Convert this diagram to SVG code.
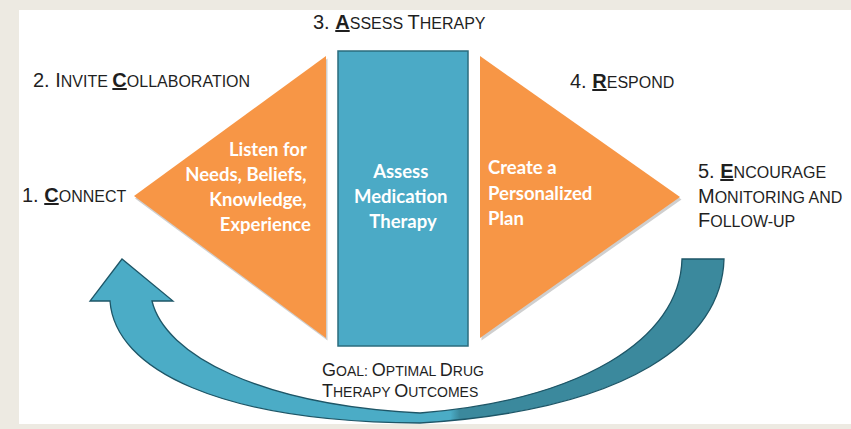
<svg xmlns="http://www.w3.org/2000/svg" width="851" height="429" viewBox="0 0 851 429">
  <defs>
    <style>
      .lbl { font-family: "Liberation Sans", Arial, sans-serif; fill: #1f1f1f; }
      .big { font-size: 20px; }
      .sm { font-size: 16px; }
      .gbig { font-size: 18px; }
      .gsm { font-size: 14px; }
      .key { font-weight: bold; text-decoration: underline; }
      .inner { font-family: Lato, "Open Sans", sans-serif; font-weight: bold; font-size: 18.5px; fill: #ffffff; }
      .tri { fill: #F79646; }
      .shadow { fill: #cfcfcf; }
      .band { stroke: #1E5667; stroke-width: 1.3; stroke-linejoin: miter; }
    </style>
    <linearGradient id="bandFill" gradientUnits="userSpaceOnUse" x1="410" y1="0" x2="500" y2="0">
      <stop offset="0" stop-color="#4BACC6"/>
      <stop offset="0.45" stop-color="#4BACC6"/>
      <stop offset="0.55" stop-color="#3B899D"/>
      <stop offset="1" stop-color="#3B899D"/>
    </linearGradient>
  </defs>

  <!-- page background and white panel -->
  <rect x="0" y="0" width="851" height="429" fill="#EDEAE2"/>
  <rect x="19" y="10" width="832" height="414" fill="#ffffff"/>

  <!-- return loop arrow -->
  <g id="connectors">
    <path class="band" fill="url(#bandFill)" d="M122,259 L90,301 L110,301 C115,370 220,422 420,423 C630,410 722,340 724,259 L682,259 C680,340 580,400 420,413 C260,405 165,355 152,301 L173,301 Z"/>
  </g>

  <g id="listen">
    <polygon class="shadow" points="135,198.5 327.5,58.5 327.5,340.5"/>
    <polygon class="tri" points="134,196 326,56 326,338"/>
    <text class="inner" text-anchor="end">
      <tspan x="311" y="156">Listen for</tspan>
      <tspan x="311" y="181">Needs, Beliefs,</tspan>
      <tspan x="311" y="206">Knowledge,</tspan>
      <tspan x="311" y="231">Experience</tspan>
    </text>
  </g>

  <g id="assess">
    <rect x="338" y="51" width="130" height="295" fill="#4BAAC6" stroke="#2B6C7E" stroke-width="1.5"/>
    <text class="inner" text-anchor="middle">
      <tspan x="403" y="178">Assess</tspan>
      <tspan x="403" y="203">Medication</tspan>
      <tspan x="403" y="228">Therapy</tspan>
    </text>
  </g>

  <g id="plan">
    <polygon class="shadow" points="481.5,58.5 681.5,199.5 481.5,340.5"/>
    <polygon class="tri" points="480,56 680,197 480,338"/>
    <text class="inner">
      <tspan x="488" y="174">Create a</tspan>
      <tspan x="488" y="200">Personalized</tspan>
      <tspan x="488" y="225">Plan</tspan>
    </text>
  </g>

  <g id="step-connect">
    <text class="lbl" x="22" y="202"><tspan class="big">1. </tspan><tspan class="big key">C</tspan><tspan class="sm">ONNECT</tspan></text>
  </g>

  <g id="step-collaboration">
    <text class="lbl" x="33" y="87"><tspan class="big">2. I</tspan><tspan class="sm">NVITE </tspan><tspan class="big key">C</tspan><tspan class="sm">OLLABORATION</tspan></text>
  </g>

  <g id="step-assess">
    <text class="lbl" x="313" y="29"><tspan class="big">3. </tspan><tspan class="big key">A</tspan><tspan class="sm">SSESS </tspan><tspan class="big">T</tspan><tspan class="sm">HERAPY</tspan></text>
  </g>

  <g id="step-respond">
    <text class="lbl" x="570" y="88"><tspan class="big">4. </tspan><tspan class="big key">R</tspan><tspan class="sm">ESPOND</tspan></text>
  </g>

  <g id="step-encourage">
    <text class="lbl" x="698" y="178"><tspan class="big">5. </tspan><tspan class="big key">E</tspan><tspan class="sm">NCOURAGE</tspan></text>
    <text class="lbl" x="698" y="203"><tspan class="big">M</tspan><tspan class="sm">ONITORING AND</tspan></text>
    <text class="lbl" x="698" y="227"><tspan class="big">F</tspan><tspan class="sm">OLLOW-UP</tspan></text>
  </g>

  <g id="goal">
    <text class="lbl" x="322" y="376"><tspan class="gbig">G</tspan><tspan class="gsm">OAL: </tspan><tspan class="gbig">O</tspan><tspan class="gsm">PTIMAL </tspan><tspan class="gbig">D</tspan><tspan class="gsm">RUG</tspan></text>
    <text class="lbl" x="322" y="397"><tspan class="gbig">T</tspan><tspan class="gsm">HERAPY </tspan><tspan class="gbig">O</tspan><tspan class="gsm">UTCOMES</tspan></text>
  </g>
</svg>
